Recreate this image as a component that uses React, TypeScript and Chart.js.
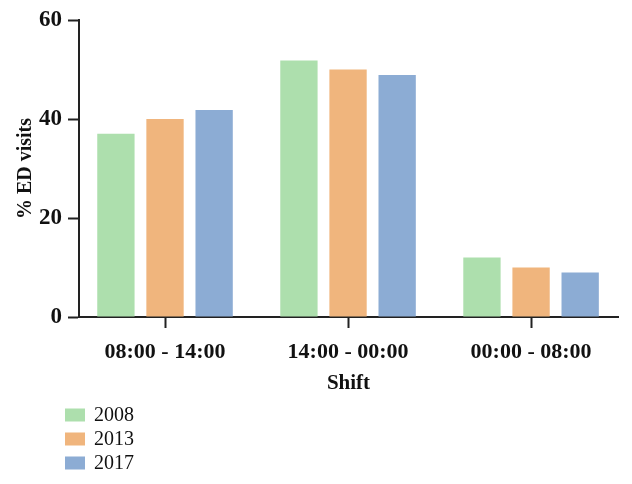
import React, { useEffect, useRef } from "react";
import { Chart, registerables } from "chart.js";

Chart.register(...registerables);

const categories = ["08:00 - 14:00", "14:00 - 00:00", "00:00 - 08:00"];
const seriesLabels = ["2008", "2013", "2017"];
const values2008 = [37, 51.8, 12];
const values2013 = [40, 50, 10];
const values2017 = [41.8, 48.9, 9];
const colors = ["#ADDFAD", "#F0B57D", "#8CACD4"];
const yTicks = [0, 20, 40, 60];

const FONT = "'Liberation Serif', 'Times New Roman', serif";

const legendPlugin = {
  id: "stackedLegend",
  afterDraw(chart: any) {
    const ctx = chart.ctx;
    ctx.save();
    chart.data.datasets.forEach((ds: any, i: number) => {
      const y = 415 + i * 24;
      ctx.fillStyle = ds.backgroundColor;
      ctx.fillRect(65, y - 6.5, 20, 13);
      ctx.fillStyle = "#111";
      ctx.font = `20px ${FONT}`;
      ctx.textBaseline = "middle";
      ctx.textAlign = "left";
      ctx.fillText(ds.label, 94, y + 1);
    });
    ctx.restore();
  },
};

export default function App() {
  const ref = useRef<HTMLCanvasElement | null>(null);
  useEffect(() => {
    if (!ref.current) return;
    const chart = new Chart(ref.current, {
      type: "bar",
      data: {
        datasets: [values2008, values2013, values2017].map((v, i) => ({
          label: seriesLabels[i],
          data: v.map((y, j) => ({ x: j, y })),
          backgroundColor: colors[i],
          borderWidth: 0,
          barPercentage: 0.76,
          categoryPercentage: 0.805,
        })),
      },
      options: {
        responsive: false,
        animation: false,
        devicePixelRatio: 1,
        layout: { padding: { top: 20, right: 14, left: 5, bottom: 88 } },
        plugins: {
          legend: { display: false },
          tooltip: { enabled: false },
        },
        scales: {
          x: {
            type: "linear",
            offset: false,
            min: -0.47,
            max: 2.475,
            afterFit: (s: any) => {
              s.height = 79;
            },
            afterBuildTicks: (s: any) => {
              s.ticks = categories.map((_, i) => ({ value: i }));
            },
            grid: {
              display: true,
              offset: false,
              drawOnChartArea: false,
              drawTicks: true,
              tickLength: 11,
              tickColor: "#222",
              tickWidth: 2,
            },
            border: { display: true, color: "#222", width: 2 },
            ticks: {
              color: "#111",
              padding: 11,
              maxRotation: 0,
              autoSkip: false,
              callback: (v: any) => categories[Math.round(Number(v))] ?? "",
              font: { family: FONT, size: 22, weight: "bold" },
            },
            title: {
              display: true,
              text: "Shift",
              color: "#111",
              padding: { top: 0, bottom: 0 },
              font: { family: FONT, size: 21, weight: "bold" },
            },
          },
          y: {
            min: 0,
            max: 60,
            afterFit: (s: any) => {
              s.width = 74;
            },
            afterBuildTicks: (s: any) => {
              s.ticks = yTicks.map((v) => ({ value: v }));
            },
            grid: {
              display: true,
              drawOnChartArea: false,
              drawTicks: true,
              tickLength: 11,
              tickColor: "#222",
              tickWidth: 2,
            },
            border: { display: true, color: "#222", width: 2 },
            ticks: {
              color: "#111",
              padding: 6,
              font: { family: FONT, size: 23, weight: "bold" },
            },
            title: {
              display: true,
              text: "% ED visits",
              color: "#111",
              padding: { top: 9, bottom: 0 },
              font: { family: FONT, size: 20, weight: "bold" },
            },
          },
        },
      },
      plugins: [legendPlugin],
    });
    return () => chart.destroy();
  }, []);
  return (
    <div style={{ position: "absolute", left: 0, top: 0, width: 632, height: 484, background: "#fff" }}>
      <canvas ref={ref} width={632} height={484} />
    </div>
  );
}
